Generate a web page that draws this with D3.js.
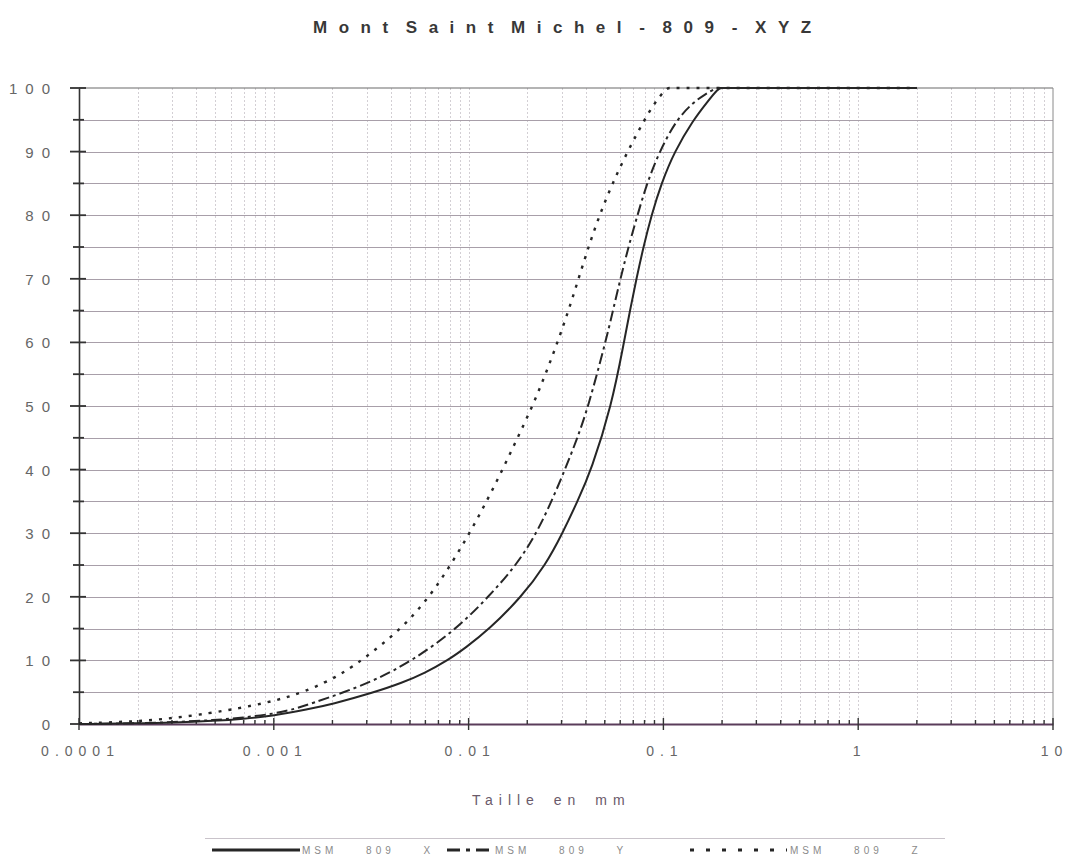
<!DOCTYPE html>
<html><head><meta charset="utf-8">
<script src="https://cdn.jsdelivr.net/npm/d3@7"></script>
<style>
body{margin:0;background:#fff;}
svg{display:block;font-family:"Liberation Sans",Arial,Helvetica,sans-serif;}
</style>
</head><body>
<svg id="chart" width="1067" height="858"></svg>
<script>
// ---------- DATA ----------
const chartTitle = "Mont Saint Michel - 809 - XYZ";
const xAxisTitle = "Taille en mm";
const xTickValues = [0.0001, 0.001, 0.01, 0.1, 1, 10];
const xTickLabels = ["0.0001", "0.001", "0.01", "0.1", "1", "10"];
const yTickValues = [0, 10, 20, 30, 40, 50, 60, 70, 80, 90, 100];
const yTickLabels = ["0", "10", "20", "30", "40", "50", "60", "70", "80", "90", "100"];
const seriesNames = ["MSM 809 X", "MSM 809 Y", "MSM 809 Z"];

// sizes (mm) and cumulative passing (%)
const sizesX = [0.0001, 0.0002, 0.0003, 0.0005, 0.000693, 0.001, 0.001494, 0.001984, 0.003218, 0.004585, 0.005949, 0.007803, 0.009652, 0.012662, 0.018703, 0.024833, 0.03034, 0.036224, 0.042737, 0.054117, 0.062736, 0.067334, 0.072692, 0.078966, 0.0868, 0.097652, 0.11387, 0.14249, 0.167, 0.19145, 0.2, 0.21, 0.5, 1, 2];
const pctX   = [0, 0.1, 0.2, 0.5, 0.8, 1.3, 2.3, 3.1, 4.9, 6.5, 8, 10, 12, 14.8, 20, 25, 30, 35, 40, 50, 60, 65, 70, 75, 80, 85, 90, 95, 97.7, 100, 100, 100, 100, 100, 100];

const sizesY = [0.0001, 0.0002, 0.0003, 0.0005, 0.000693, 0.001, 0.001297, 0.001585, 0.002259, 0.003375, 0.005162, 0.008577, 0.01266, 0.01763, 0.02232, 0.02665, 0.03126, 0.03622, 0.04123, 0.05042, 0.05508, 0.06018, 0.06614, 0.07357, 0.08229, 0.09539, 0.1166, 0.1408, 0.163, 0.187, 0.195, 0.205, 0.5, 1, 2];
const pctY   = [0, 0.1, 0.3, 0.6, 1.0, 1.6, 2.4, 3.3, 4.9, 7, 10, 14.8, 20, 25, 30, 35, 40, 45, 50, 60, 65, 70, 75, 80, 85, 90, 95, 97.6, 99, 100, 100, 100, 100, 100, 100];

const sizesZ = [0.0001, 0.0002, 0.0003, 0.00047, 0.000669, 0.000899, 0.001139, 0.001408, 0.001826, 0.002259, 0.002827, 0.00448, 0.00631, 0.008085, 0.010119, 0.012372, 0.014942, 0.017838, 0.021295, 0.024833, 0.028603, 0.032568, 0.036663, 0.041235, 0.046979, 0.054765, 0.065381, 0.07989, 0.0899, 0.10361, 0.108, 0.114, 0.5, 1, 2];
const pctZ   = [0.1, 0.4, 0.9, 1.7, 2.5, 3.3, 4.1, 5, 6.5, 8, 10, 14.8, 20, 25, 30, 35, 40, 45, 50, 55, 60, 65, 70, 75, 80, 85, 90, 95, 97.6, 100, 100, 100, 100, 100, 100];

// ---------- CHART ----------
const svg = d3.select("#chart");
const pL = 79, pR = 1053, pT = 88, pB = 724;
const x = d3.scaleLog().domain([0.0001, 10]).range([pL, pR]);
const y = d3.scaleLinear().domain([0, 100]).range([pB, pT]);

// vertical grid (log minor lines)
svg.append("g").selectAll("line")
  .data(x.ticks().filter(v => v > 0.0001 && v < 10))
  .join("line")
  .attr("x1", d => Math.round(x(d)) + 0.5).attr("x2", d => Math.round(x(d)) + 0.5)
  .attr("y1", pT).attr("y2", pB)
  .attr("stroke", "#d3cfd4").attr("stroke-width", 1)
  .attr("stroke-dasharray", "2,2");

// horizontal grid every 5
svg.append("g").selectAll("line")
  .data(d3.range(5, 100, 5))
  .join("line")
  .attr("x1", pL).attr("x2", pR)
  .attr("y1", d => Math.round(y(d)) + 0.5).attr("y2", d => Math.round(y(d)) + 0.5)
  .attr("stroke", "#a89fa9").attr("stroke-width", 1);

// top border & right border
svg.append("line").attr("x1", pL).attr("x2", pR).attr("y1", pT).attr("y2", pT)
  .attr("stroke", "#6a6a6a").attr("stroke-width", 1.2);
svg.append("line").attr("x1", pR).attr("x2", pR).attr("y1", pT).attr("y2", pB)
  .attr("stroke", "#8a8a8a").attr("stroke-width", 1);

// left axis
const yAxis = d3.axisLeft(y).tickValues(yTickValues)
  .tickFormat((d, i) => yTickLabels[i]).tickSize(0).tickPadding(21);
const gy = svg.append("g").attr("transform", `translate(${pL},0)`).call(yAxis);
gy.select(".domain").attr("stroke", "#333").attr("stroke-width", 1.6);
gy.selectAll("text").attr("font-size", 15).attr("fill", "#666")
  .attr("letter-spacing", "8px").attr("dy", "0.36em");
// cross ticks on y axis
svg.append("g").selectAll("line")
  .data(d3.range(0, 101, 5))
  .join("line")
  .attr("x1", d => d % 10 === 0 ? pL - 9 : pL - 6)
  .attr("x2", d => d % 10 === 0 ? pL + 7 : pL + 5)
  .attr("y1", d => y(d)).attr("y2", d => y(d))
  .attr("stroke", "#333").attr("stroke-width", 1.8);

// bottom axis
const xAxis = d3.axisBottom(x).tickValues(xTickValues)
  .tickFormat((d, i) => xTickLabels[i]).tickSize(0).tickPadding(22);
const gx = svg.append("g").attr("transform", `translate(0,${pB})`).call(xAxis);
gx.select(".domain").attr("stroke", "#5a3c5a").attr("stroke-width", 1.8);
gx.selectAll("text").attr("font-size", 14).attr("fill", "#666")
  .attr("letter-spacing", "6px").attr("dx", "1px");
// minor ticks
svg.append("g").selectAll("line")
  .data(x.ticks())
  .join("line")
  .attr("x1", d => x(d)).attr("x2", d => x(d))
  .attr("y1", d => xTickValues.includes(d) ? pB - 6 : pB - 4)
  .attr("y2", d => xTickValues.includes(d) ? pB + 6 : pB)
  .attr("stroke", "#333").attr("stroke-width", 1.4);

// series
const line = d3.line().x(d => x(d[0])).y(d => y(d[1])).curve(d3.curveBasis);
const series = [
  {name: seriesNames[0], sizes: sizesX, pct: pctX, dash: null, legendDash: null, width: 2},
  {name: seriesNames[1], sizes: sizesY, pct: pctY, dash: "11,4,3,4", legendDash: "13,6,4,6", width: 2},
  {name: seriesNames[2], sizes: sizesZ, pct: pctZ, dash: "3,7", legendDash: "4,12", width: 2.4}
];
series.forEach(s => {
  svg.append("path")
    .datum(s.sizes.map((v, i) => [v, s.pct[i]]))
    .attr("d", line)
    .attr("fill", "none")
    .attr("stroke", "#262626")
    .attr("stroke-width", s.width)
    .attr("stroke-dasharray", s.dash);
});

// title
svg.append("text").attr("x", 313).attr("y", 33)
  .attr("font-size", 17).attr("font-weight", "bold").attr("fill", "#383838")
  .attr("letter-spacing", "11.5px").attr("word-spacing", "-10px")
  .text(chartTitle);

// x-axis title
svg.append("text").attr("x", 472).attr("y", 805)
  .attr("font-size", 14).attr("fill", "#6a5a6a")
  .attr("letter-spacing", "6px").attr("word-spacing", "4px")
  .text(xAxisTitle);

// legend
svg.append("line").attr("x1", 205).attr("x2", 945).attr("y1", 838.5).attr("y2", 838.5)
  .attr("stroke", "#c9c3ca").attr("stroke-width", 1);
const legendItems = [
  {x1: 212, x2: 300, tx: 302},
  {x1: 447, x2: 493, tx: 495},
  {x1: 690, x2: 787, tx: 790}
];
legendItems.forEach((it, i) => {
  const s = series[i];
  svg.append("line").attr("x1", it.x1).attr("x2", it.x2).attr("y1", 850).attr("y2", 850)
    .attr("stroke", "#262626").attr("stroke-width", 3)
    .attr("stroke-dasharray", s.legendDash);
  svg.append("text").attr("x", it.tx).attr("y", 854)
    .attr("font-size", 10).attr("fill", "#8a8a8a")
    .attr("letter-spacing", "4px").attr("word-spacing", "22px")
    .text(s.name);
});
</script>
</body></html>
